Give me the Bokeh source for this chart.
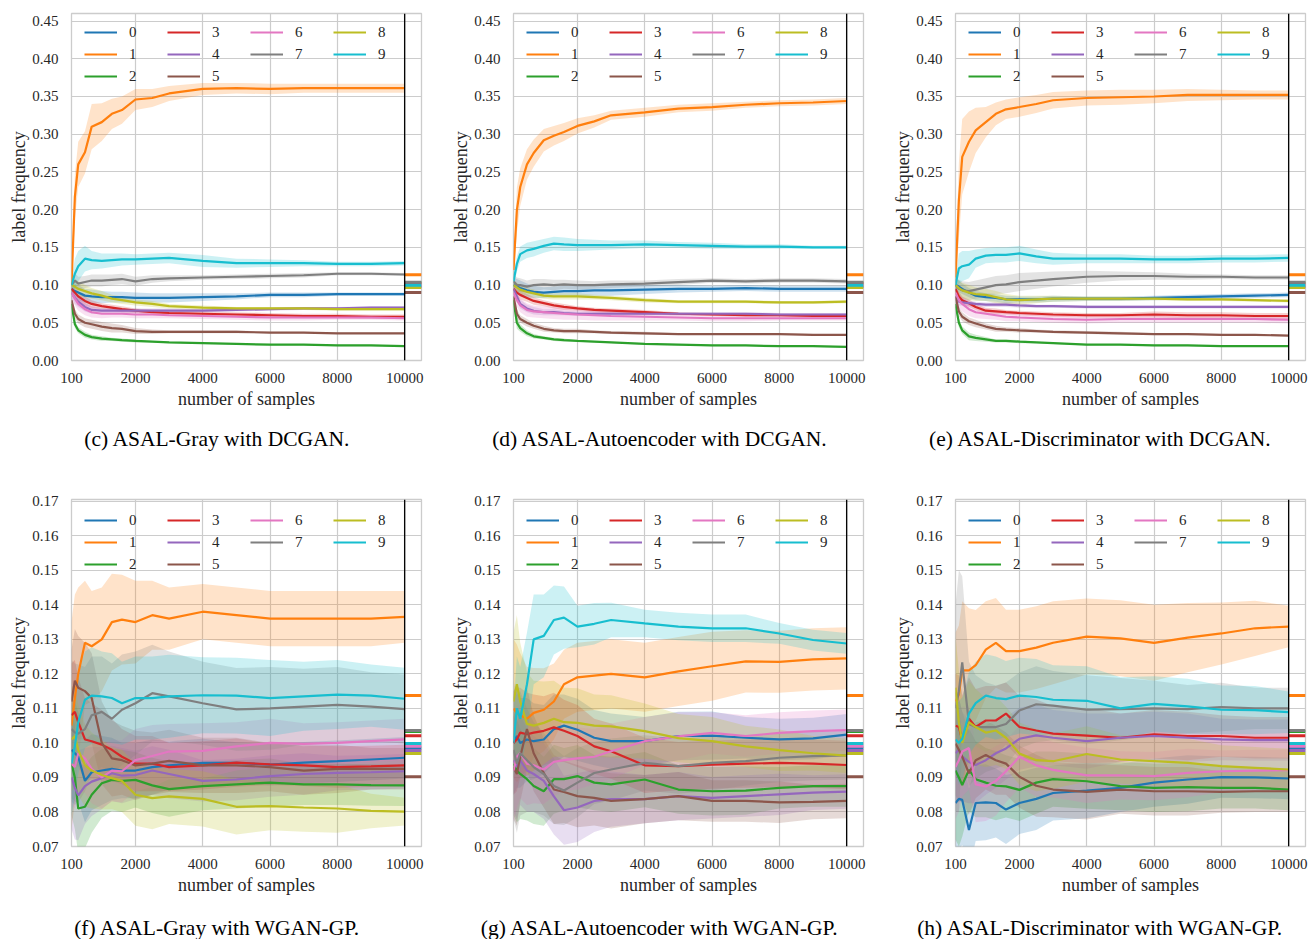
from bokeh.plotting import figure
from bokeh.layouts import row, column
from bokeh.models import (Range1d, FixedTicker, NumeralTickFormatter, Span,
                          Legend, LegendItem, Label)
from bokeh.embed import file_html
from bokeh.resources import INLINE

# ---------------- data ----------------
SAMPLES = [100, 200, 300, 500, 700, 1000, 1300, 1600, 2000, 2500, 3000,
           4000, 5000, 6000, 7000, 8000, 9000, 10000]
LABELS = ["0", "1", "2", "3", "4", "5", "6", "7", "8", "9"]
COLORS = ["#1f77b4", "#ff7f0e", "#2ca02c", "#d62728", "#9467bd",
          "#8c564b", "#e377c2", "#7f7f7f", "#bcbd22", "#17becf"]
TRUE_FREQ = [0.0985, 0.1137, 0.1033, 0.1021, 0.0978, 0.0902, 0.0990, 0.1036, 0.0969, 0.0998]
MAX_SAMPLES = 10000
X_LIMITS = (100, 10500)
X_TICKS = [100, 2000, 4000, 6000, 8000, 10000]
Y_TICKS_DCGAN = [0.00, 0.05, 0.10, 0.15, 0.20, 0.25, 0.30, 0.35, 0.40, 0.45]
Y_TICKS_WGAN = [0.07, 0.08, 0.09, 0.10, 0.11, 0.12, 0.13, 0.14, 0.15, 0.16, 0.17]
Y_LIMITS_DCGAN = (0.0, 0.46)
Y_LIMITS_WGAN = (0.07, 0.1705)
CAPTIONS = ["(c) ASAL-Gray with DCGAN.", "(d) ASAL-Autoencoder with DCGAN.",
            "(e) ASAL-Discriminator with DCGAN.", "(f) ASAL-Gray with WGAN-GP.",
            "(g) ASAL-Autoencoder with WGAN-GP.", "(h) ASAL-Discriminator with WGAN-GP."]

# (c) ASAL-Gray with DCGAN
c_0 = [0.095, 0.092, 0.090, 0.086, 0.085, 0.084, 0.084, 0.084, 0.083, 0.083, 0.083, 0.084, 0.085, 0.087, 0.087, 0.088, 0.088, 0.088]
c_1 = [0.100, 0.217, 0.260, 0.276, 0.310, 0.316, 0.327, 0.332, 0.346, 0.348, 0.354, 0.360, 0.361, 0.360, 0.361, 0.361, 0.361, 0.361]
c_2 = [0.075, 0.048, 0.040, 0.034, 0.031, 0.029, 0.028, 0.027, 0.026, 0.025, 0.024, 0.023, 0.022, 0.021, 0.021, 0.020, 0.020, 0.019]
c_3 = [0.095, 0.090, 0.085, 0.079, 0.075, 0.072, 0.070, 0.068, 0.066, 0.064, 0.063, 0.062, 0.061, 0.060, 0.059, 0.059, 0.058, 0.058]
c_4 = [0.090, 0.083, 0.078, 0.071, 0.067, 0.066, 0.066, 0.066, 0.066, 0.066, 0.066, 0.066, 0.067, 0.068, 0.069, 0.069, 0.070, 0.070]
c_5 = [0.080, 0.062, 0.055, 0.050, 0.048, 0.045, 0.043, 0.042, 0.039, 0.038, 0.038, 0.038, 0.038, 0.037, 0.037, 0.036, 0.036, 0.036]
c_6 = [0.090, 0.082, 0.075, 0.068, 0.064, 0.062, 0.062, 0.062, 0.061, 0.061, 0.060, 0.059, 0.058, 0.057, 0.057, 0.057, 0.057, 0.056]
c_7 = [0.100, 0.106, 0.102, 0.104, 0.106, 0.106, 0.107, 0.108, 0.105, 0.108, 0.109, 0.110, 0.111, 0.112, 0.113, 0.115, 0.115, 0.114]
c_8 = [0.100, 0.098, 0.095, 0.092, 0.089, 0.086, 0.082, 0.080, 0.077, 0.075, 0.072, 0.070, 0.069, 0.069, 0.069, 0.068, 0.068, 0.068]
c_9 = [0.100, 0.115, 0.125, 0.135, 0.133, 0.132, 0.133, 0.134, 0.134, 0.135, 0.136, 0.132, 0.129, 0.129, 0.129, 0.128, 0.128, 0.129]
c_0_sd = [0.010, 0.010, 0.010, 0.009, 0.009, 0.008, 0.007, 0.007, 0.007, 0.006, 0.006, 0.005, 0.004, 0.003, 0.003, 0.002, 0.002, 0.002]
c_1_sd = [0.010, 0.030, 0.030, 0.028, 0.030, 0.025, 0.020, 0.018, 0.014, 0.012, 0.010, 0.008, 0.007, 0.007, 0.006, 0.006, 0.006, 0.006]
c_2_sd = [0.005, 0.005, 0.004, 0.004, 0.003, 0.003, 0.002, 0.002, 0.002, 0.001, 0.001, 0.001, 0.001, 0.001, 0.001, 0.001, 0.001, 0.001]
c_3_sd = [0.008, 0.008, 0.007, 0.006, 0.005, 0.004, 0.004, 0.004, 0.003, 0.003, 0.003, 0.003, 0.003, 0.003, 0.003, 0.003, 0.003, 0.003]
c_4_sd = [0.008, 0.008, 0.007, 0.006, 0.005, 0.004, 0.004, 0.003, 0.003, 0.003, 0.003, 0.002, 0.002, 0.002, 0.002, 0.002, 0.002, 0.002]
c_5_sd = [0.006, 0.006, 0.006, 0.006, 0.006, 0.006, 0.006, 0.005, 0.004, 0.003, 0.002, 0.002, 0.002, 0.001, 0.001, 0.001, 0.001, 0.001]
c_6_sd = [0.008, 0.009, 0.009, 0.008, 0.007, 0.006, 0.005, 0.005, 0.005, 0.005, 0.004, 0.004, 0.004, 0.004, 0.004, 0.003, 0.003, 0.003]
c_7_sd = [0.010, 0.010, 0.009, 0.008, 0.008, 0.008, 0.007, 0.007, 0.006, 0.005, 0.004, 0.003, 0.003, 0.003, 0.003, 0.002, 0.002, 0.002]
c_8_sd = [0.010, 0.010, 0.010, 0.008, 0.007, 0.006, 0.005, 0.005, 0.004, 0.004, 0.003, 0.003, 0.002, 0.002, 0.002, 0.002, 0.002, 0.002]
c_9_sd = [0.010, 0.020, 0.020, 0.017, 0.012, 0.010, 0.009, 0.008, 0.007, 0.007, 0.007, 0.008, 0.006, 0.005, 0.004, 0.003, 0.003, 0.003]

# (d) ASAL-Autoencoder with DCGAN
d_0 = [0.100, 0.098, 0.096, 0.093, 0.091, 0.090, 0.091, 0.092, 0.092, 0.093, 0.093, 0.094, 0.095, 0.095, 0.096, 0.095, 0.095, 0.095]
d_1 = [0.120, 0.199, 0.230, 0.260, 0.275, 0.292, 0.298, 0.303, 0.311, 0.317, 0.325, 0.329, 0.334, 0.336, 0.339, 0.341, 0.342, 0.344]
d_2 = [0.080, 0.050, 0.043, 0.036, 0.032, 0.030, 0.028, 0.027, 0.026, 0.025, 0.024, 0.022, 0.021, 0.020, 0.020, 0.019, 0.019, 0.018]
d_3 = [0.095, 0.090, 0.087, 0.083, 0.079, 0.076, 0.073, 0.071, 0.069, 0.067, 0.066, 0.064, 0.062, 0.061, 0.060, 0.060, 0.059, 0.059]
d_4 = [0.095, 0.085, 0.075, 0.069, 0.066, 0.064, 0.064, 0.063, 0.062, 0.062, 0.062, 0.062, 0.062, 0.062, 0.062, 0.061, 0.061, 0.061]
d_5 = [0.085, 0.062, 0.055, 0.050, 0.046, 0.042, 0.040, 0.039, 0.039, 0.038, 0.037, 0.036, 0.035, 0.035, 0.035, 0.035, 0.034, 0.034]
d_6 = [0.090, 0.080, 0.073, 0.067, 0.065, 0.064, 0.063, 0.062, 0.061, 0.060, 0.059, 0.058, 0.057, 0.056, 0.056, 0.056, 0.056, 0.056]
d_7 = [0.105, 0.100, 0.100, 0.098, 0.100, 0.101, 0.100, 0.101, 0.100, 0.100, 0.101, 0.102, 0.104, 0.106, 0.105, 0.106, 0.106, 0.105]
d_8 = [0.100, 0.097, 0.094, 0.091, 0.089, 0.086, 0.085, 0.085, 0.085, 0.084, 0.083, 0.080, 0.078, 0.078, 0.078, 0.077, 0.077, 0.078]
d_9 = [0.105, 0.128, 0.141, 0.146, 0.148, 0.152, 0.155, 0.154, 0.153, 0.153, 0.153, 0.154, 0.153, 0.152, 0.151, 0.151, 0.150, 0.150]
d_0_sd = [0.010, 0.010, 0.010, 0.009, 0.008, 0.007, 0.007, 0.007, 0.007, 0.007, 0.007, 0.006, 0.005, 0.004, 0.004, 0.004, 0.004, 0.004]
d_1_sd = [0.010, 0.030, 0.025, 0.020, 0.018, 0.015, 0.013, 0.012, 0.010, 0.008, 0.006, 0.006, 0.005, 0.005, 0.004, 0.004, 0.004, 0.004]
d_2_sd = [0.006, 0.008, 0.005, 0.004, 0.003, 0.002, 0.002, 0.002, 0.001, 0.001, 0.001, 0.001, 0.001, 0.001, 0.001, 0.001, 0.001, 0.001]
d_3_sd = [0.006, 0.006, 0.006, 0.005, 0.005, 0.004, 0.004, 0.004, 0.003, 0.003, 0.003, 0.003, 0.002, 0.002, 0.002, 0.002, 0.002, 0.002]
d_4_sd = [0.006, 0.006, 0.006, 0.005, 0.005, 0.004, 0.004, 0.003, 0.003, 0.003, 0.003, 0.002, 0.002, 0.002, 0.002, 0.002, 0.002, 0.002]
d_5_sd = [0.006, 0.006, 0.005, 0.005, 0.004, 0.004, 0.003, 0.003, 0.003, 0.002, 0.002, 0.002, 0.001, 0.001, 0.001, 0.001, 0.001, 0.001]
d_6_sd = [0.008, 0.009, 0.009, 0.009, 0.008, 0.008, 0.008, 0.008, 0.007, 0.007, 0.006, 0.005, 0.004, 0.004, 0.004, 0.003, 0.003, 0.003]
d_7_sd = [0.010, 0.010, 0.009, 0.008, 0.008, 0.007, 0.007, 0.006, 0.006, 0.005, 0.005, 0.004, 0.004, 0.003, 0.003, 0.003, 0.003, 0.003]
d_8_sd = [0.006, 0.006, 0.006, 0.005, 0.005, 0.004, 0.004, 0.004, 0.004, 0.003, 0.003, 0.003, 0.002, 0.002, 0.002, 0.002, 0.002, 0.002]
d_9_sd = [0.010, 0.010, 0.010, 0.010, 0.010, 0.009, 0.009, 0.009, 0.008, 0.007, 0.006, 0.005, 0.004, 0.004, 0.003, 0.003, 0.002, 0.002]

# (e) ASAL-Discriminator with DCGAN
e_0 = [0.100, 0.098, 0.095, 0.090, 0.086, 0.084, 0.083, 0.081, 0.081, 0.081, 0.082, 0.082, 0.082, 0.083, 0.084, 0.085, 0.086, 0.087]
e_1 = [0.110, 0.212, 0.270, 0.290, 0.305, 0.316, 0.327, 0.333, 0.336, 0.340, 0.345, 0.348, 0.349, 0.350, 0.352, 0.352, 0.352, 0.352]
e_2 = [0.075, 0.050, 0.040, 0.032, 0.030, 0.028, 0.026, 0.026, 0.025, 0.024, 0.023, 0.021, 0.021, 0.020, 0.020, 0.019, 0.019, 0.019]
e_3 = [0.095, 0.085, 0.080, 0.076, 0.071, 0.066, 0.065, 0.064, 0.063, 0.062, 0.061, 0.060, 0.060, 0.061, 0.060, 0.060, 0.059, 0.059]
e_4 = [0.085, 0.078, 0.077, 0.076, 0.075, 0.074, 0.074, 0.074, 0.073, 0.072, 0.072, 0.071, 0.071, 0.071, 0.071, 0.071, 0.071, 0.071]
e_5 = [0.085, 0.065, 0.058, 0.052, 0.049, 0.045, 0.042, 0.041, 0.040, 0.039, 0.038, 0.037, 0.036, 0.035, 0.035, 0.034, 0.034, 0.033]
e_6 = [0.090, 0.080, 0.075, 0.068, 0.064, 0.062, 0.060, 0.058, 0.057, 0.056, 0.055, 0.054, 0.055, 0.055, 0.055, 0.055, 0.055, 0.054]
e_7 = [0.100, 0.095, 0.093, 0.092, 0.094, 0.097, 0.100, 0.101, 0.104, 0.106, 0.108, 0.111, 0.112, 0.112, 0.111, 0.111, 0.110, 0.110]
e_8 = [0.100, 0.096, 0.093, 0.090, 0.088, 0.087, 0.084, 0.081, 0.080, 0.081, 0.082, 0.082, 0.082, 0.082, 0.081, 0.081, 0.080, 0.079]
e_9 = [0.100, 0.122, 0.125, 0.127, 0.135, 0.139, 0.140, 0.140, 0.142, 0.138, 0.135, 0.135, 0.135, 0.134, 0.134, 0.135, 0.135, 0.136]
e_0_sd = [0.008, 0.008, 0.007, 0.006, 0.006, 0.005, 0.005, 0.005, 0.004, 0.004, 0.004, 0.003, 0.003, 0.003, 0.003, 0.003, 0.003, 0.003]
e_1_sd = [0.020, 0.050, 0.050, 0.040, 0.030, 0.020, 0.015, 0.013, 0.013, 0.012, 0.011, 0.010, 0.010, 0.009, 0.008, 0.007, 0.006, 0.006]
e_2_sd = [0.005, 0.006, 0.005, 0.005, 0.004, 0.003, 0.002, 0.002, 0.002, 0.001, 0.001, 0.001, 0.001, 0.001, 0.001, 0.001, 0.001, 0.001]
e_3_sd = [0.006, 0.006, 0.005, 0.005, 0.004, 0.004, 0.004, 0.003, 0.003, 0.003, 0.003, 0.003, 0.003, 0.004, 0.004, 0.004, 0.004, 0.004]
e_4_sd = [0.005, 0.005, 0.004, 0.004, 0.003, 0.003, 0.003, 0.003, 0.003, 0.002, 0.002, 0.002, 0.002, 0.002, 0.002, 0.002, 0.002, 0.002]
e_5_sd = [0.006, 0.006, 0.006, 0.005, 0.005, 0.004, 0.004, 0.003, 0.003, 0.002, 0.002, 0.002, 0.002, 0.001, 0.001, 0.001, 0.001, 0.001]
e_6_sd = [0.008, 0.010, 0.010, 0.009, 0.008, 0.007, 0.006, 0.006, 0.005, 0.005, 0.005, 0.005, 0.005, 0.005, 0.005, 0.005, 0.005, 0.005]
e_7_sd = [0.010, 0.012, 0.012, 0.012, 0.012, 0.012, 0.012, 0.012, 0.012, 0.011, 0.010, 0.008, 0.006, 0.005, 0.004, 0.003, 0.003, 0.003]
e_8_sd = [0.010, 0.010, 0.010, 0.010, 0.009, 0.008, 0.008, 0.007, 0.006, 0.005, 0.004, 0.003, 0.003, 0.002, 0.002, 0.002, 0.002, 0.002]
e_9_sd = [0.010, 0.020, 0.020, 0.018, 0.012, 0.010, 0.010, 0.010, 0.010, 0.009, 0.008, 0.006, 0.006, 0.005, 0.005, 0.005, 0.005, 0.005]

# (f) ASAL-Gray with WGAN-GP
f_0 = [0.098, 0.097, 0.096, 0.089, 0.0915, 0.092, 0.0925, 0.092, 0.092, 0.093, 0.0935, 0.0942, 0.0942, 0.0937, 0.0943, 0.0947, 0.0952, 0.0957]
f_1 = [0.105, 0.113, 0.120, 0.129, 0.128, 0.130, 0.135, 0.1357, 0.135, 0.137, 0.136, 0.138, 0.137, 0.136, 0.136, 0.136, 0.136, 0.1365]
f_2 = [0.094, 0.090, 0.081, 0.0815, 0.085, 0.0883, 0.0893, 0.089, 0.0893, 0.0877, 0.0866, 0.0875, 0.088, 0.0885, 0.088, 0.088, 0.0878, 0.0877]
f_3 = [0.108, 0.109, 0.106, 0.101, 0.1005, 0.0995, 0.098, 0.096, 0.094, 0.094, 0.093, 0.0935, 0.0943, 0.0938, 0.0935, 0.093, 0.0932, 0.0935]
f_4 = [0.090, 0.087, 0.0848, 0.0875, 0.0888, 0.0898, 0.0912, 0.0905, 0.0907, 0.092, 0.091, 0.089, 0.0894, 0.0904, 0.091, 0.0913, 0.0915, 0.0918]
f_5 = [0.112, 0.118, 0.116, 0.115, 0.113, 0.100, 0.0955, 0.095, 0.0935, 0.094, 0.0948, 0.0935, 0.0935, 0.093, 0.092, 0.0925, 0.0925, 0.0925]
f_6 = [0.094, 0.093, 0.097, 0.0955, 0.0925, 0.090, 0.092, 0.0918, 0.095, 0.0962, 0.0975, 0.0977, 0.099, 0.100, 0.0997, 0.100, 0.1005, 0.101]
f_7 = [0.104, 0.103, 0.1027, 0.104, 0.108, 0.109, 0.107, 0.1096, 0.1115, 0.1144, 0.1135, 0.1115, 0.1097, 0.110, 0.1105, 0.111, 0.1105, 0.1098]
f_8 = [0.101, 0.102, 0.098, 0.0935, 0.092, 0.0907, 0.0898, 0.089, 0.085, 0.084, 0.0845, 0.0838, 0.0815, 0.0817, 0.0813, 0.081, 0.0803, 0.0801]
f_9 = [0.094, 0.099, 0.106, 0.1125, 0.1137, 0.1135, 0.113, 0.1115, 0.113, 0.113, 0.1135, 0.1138, 0.1137, 0.113, 0.1135, 0.114, 0.1137, 0.1128]
f_0_sd = [0.015, 0.015, 0.013, 0.012, 0.011, 0.010, 0.009, 0.008, 0.008, 0.008, 0.007, 0.007, 0.006, 0.006, 0.006, 0.006, 0.006, 0.006]
f_1_sd = [0.030, 0.030, 0.025, 0.018, 0.016, 0.015, 0.014, 0.013, 0.012, 0.010, 0.009, 0.008, 0.008, 0.008, 0.008, 0.008, 0.008, 0.0075]
f_2_sd = [0.015, 0.015, 0.013, 0.012, 0.011, 0.010, 0.009, 0.009, 0.008, 0.008, 0.008, 0.007, 0.007, 0.007, 0.006, 0.006, 0.006, 0.006]
f_3_sd = [0.015, 0.015, 0.013, 0.012, 0.011, 0.010, 0.009, 0.008, 0.008, 0.008, 0.007, 0.007, 0.007, 0.006, 0.006, 0.006, 0.006, 0.006]
f_4_sd = [0.015, 0.015, 0.013, 0.011, 0.010, 0.009, 0.008, 0.008, 0.007, 0.007, 0.007, 0.006, 0.006, 0.006, 0.006, 0.005, 0.005, 0.005]
f_5_sd = [0.015, 0.015, 0.015, 0.014, 0.013, 0.012, 0.011, 0.010, 0.010, 0.009, 0.009, 0.008, 0.008, 0.007, 0.007, 0.007, 0.006, 0.006]
f_6_sd = [0.012, 0.012, 0.011, 0.010, 0.010, 0.009, 0.009, 0.009, 0.009, 0.009, 0.008, 0.008, 0.007, 0.007, 0.006, 0.006, 0.006, 0.006]
f_7_sd = [0.020, 0.020, 0.020, 0.018, 0.017, 0.016, 0.016, 0.016, 0.015, 0.014, 0.013, 0.012, 0.012, 0.012, 0.011, 0.011, 0.010, 0.010]
f_8_sd = [0.015, 0.015, 0.013, 0.012, 0.011, 0.010, 0.009, 0.009, 0.009, 0.009, 0.008, 0.008, 0.008, 0.007, 0.007, 0.007, 0.005, 0.004]
f_9_sd = [0.015, 0.015, 0.015, 0.014, 0.014, 0.013, 0.013, 0.012, 0.012, 0.012, 0.012, 0.011, 0.011, 0.011, 0.010, 0.010, 0.009, 0.009]

# (g) ASAL-Autoencoder with WGAN-GP
g_0 = [0.100, 0.102, 0.100, 0.101, 0.1005, 0.101, 0.104, 0.105, 0.1038, 0.1015, 0.1005, 0.1005, 0.102, 0.1021, 0.1015, 0.101, 0.1013, 0.1024]
g_1 = [0.110, 0.1085, 0.108, 0.107, 0.1087, 0.1096, 0.112, 0.117, 0.119, 0.1195, 0.120, 0.119, 0.1207, 0.1222, 0.1236, 0.1235, 0.1242, 0.1245]
g_2 = [0.094, 0.092, 0.091, 0.0895, 0.0875, 0.086, 0.0895, 0.0895, 0.0904, 0.0885, 0.088, 0.0894, 0.0865, 0.086, 0.0862, 0.087, 0.0875, 0.0875]
g_3 = [0.100, 0.101, 0.103, 0.1025, 0.103, 0.1035, 0.1045, 0.1035, 0.102, 0.099, 0.0976, 0.0935, 0.0933, 0.0937, 0.094, 0.0942, 0.094, 0.0936]
g_4 = [0.095, 0.093, 0.095, 0.092, 0.091, 0.089, 0.0845, 0.0805, 0.0813, 0.0832, 0.0837, 0.0837, 0.0846, 0.0841, 0.0846, 0.0851, 0.0856, 0.0859]
g_5 = [0.093, 0.091, 0.096, 0.104, 0.097, 0.0913, 0.0865, 0.0858, 0.0846, 0.0841, 0.0832, 0.0837, 0.0846, 0.0832, 0.0832, 0.0828, 0.0829, 0.0832]
g_6 = [0.092, 0.096, 0.097, 0.094, 0.0935, 0.0923, 0.0945, 0.095, 0.0955, 0.096, 0.0976, 0.1005, 0.1019, 0.1029, 0.102, 0.1029, 0.1034, 0.1037]
g_7 = [0.098, 0.094, 0.097, 0.095, 0.093, 0.091, 0.0875, 0.0862, 0.0885, 0.0913, 0.0923, 0.0942, 0.0933, 0.0942, 0.0947, 0.0957, 0.0962, 0.0964]
g_8 = [0.112, 0.117, 0.112, 0.1055, 0.105, 0.1058, 0.107, 0.106, 0.1058, 0.105, 0.1048, 0.1034, 0.1014, 0.1005, 0.099, 0.0979, 0.097, 0.0963]
g_9 = [0.100, 0.110, 0.107, 0.117, 0.130, 0.131, 0.1356, 0.1363, 0.1337, 0.1345, 0.1356, 0.1346, 0.1337, 0.1332, 0.1332, 0.1317, 0.1298, 0.1288]
g_0_sd = [0.015, 0.015, 0.013, 0.012, 0.011, 0.010, 0.010, 0.009, 0.009, 0.008, 0.008, 0.007, 0.007, 0.007, 0.006, 0.006, 0.006, 0.006]
g_1_sd = [0.020, 0.020, 0.018, 0.015, 0.013, 0.012, 0.011, 0.010, 0.010, 0.010, 0.010, 0.010, 0.010, 0.010, 0.009, 0.009, 0.009, 0.009]
g_2_sd = [0.015, 0.015, 0.013, 0.012, 0.011, 0.010, 0.010, 0.009, 0.009, 0.008, 0.008, 0.008, 0.007, 0.007, 0.007, 0.006, 0.006, 0.006]
g_3_sd = [0.015, 0.015, 0.013, 0.012, 0.011, 0.010, 0.010, 0.009, 0.009, 0.008, 0.008, 0.008, 0.007, 0.007, 0.007, 0.007, 0.007, 0.007]
g_4_sd = [0.015, 0.015, 0.013, 0.012, 0.011, 0.011, 0.011, 0.010, 0.010, 0.009, 0.008, 0.007, 0.007, 0.006, 0.006, 0.006, 0.005, 0.005]
g_5_sd = [0.015, 0.015, 0.013, 0.012, 0.011, 0.010, 0.010, 0.009, 0.009, 0.008, 0.008, 0.007, 0.007, 0.006, 0.006, 0.006, 0.005, 0.005]
g_6_sd = [0.015, 0.015, 0.013, 0.012, 0.011, 0.010, 0.010, 0.009, 0.009, 0.008, 0.008, 0.007, 0.007, 0.006, 0.006, 0.006, 0.006, 0.006]
g_7_sd = [0.020, 0.020, 0.018, 0.015, 0.013, 0.012, 0.011, 0.010, 0.010, 0.009, 0.009, 0.008, 0.008, 0.008, 0.007, 0.007, 0.007, 0.007]
g_8_sd = [0.020, 0.020, 0.017, 0.015, 0.013, 0.012, 0.011, 0.010, 0.010, 0.009, 0.009, 0.008, 0.007, 0.007, 0.006, 0.006, 0.005, 0.005]
g_9_sd = [0.010, 0.015, 0.015, 0.015, 0.013, 0.012, 0.010, 0.009, 0.006, 0.006, 0.005, 0.004, 0.004, 0.004, 0.004, 0.003, 0.003, 0.003]

# (h) ASAL-Discriminator with WGAN-GP
h_0 = [0.0826, 0.0838, 0.0835, 0.0748, 0.0826, 0.0828, 0.0826, 0.0807, 0.0826, 0.0838, 0.0855, 0.0862, 0.087, 0.0885, 0.0894, 0.0901, 0.090, 0.0897]
h_1 = [0.112, 0.114, 0.121, 0.121, 0.1225, 0.127, 0.129, 0.1266, 0.1266, 0.1276, 0.129, 0.1308, 0.1303, 0.129, 0.1305, 0.1317, 0.1332, 0.1337]
h_2 = [0.092, 0.090, 0.0878, 0.0922, 0.0895, 0.0885, 0.0876, 0.0874, 0.0864, 0.0885, 0.0895, 0.0889, 0.0875, 0.087, 0.0872, 0.087, 0.087, 0.0865]
h_3 = [0.105, 0.1046, 0.1008, 0.107, 0.1046, 0.1065, 0.1065, 0.1085, 0.1046, 0.1036, 0.1027, 0.1021, 0.1015, 0.1025, 0.102, 0.102, 0.1015, 0.1015]
h_4 = [0.097, 0.098, 0.096, 0.0945, 0.0936, 0.095, 0.097, 0.0984, 0.1012, 0.1022, 0.1015, 0.1005, 0.1015, 0.102, 0.1015, 0.101, 0.1008, 0.1008]
h_5 = [0.0998, 0.098, 0.096, 0.0912, 0.095, 0.0965, 0.095, 0.094, 0.0902, 0.0876, 0.0865, 0.0858, 0.0865, 0.086, 0.086, 0.0858, 0.086, 0.086]
h_6 = [0.093, 0.095, 0.0975, 0.0985, 0.088, 0.0874, 0.089, 0.0918, 0.096, 0.0935, 0.0922, 0.0906, 0.0906, 0.0904, 0.0913, 0.0918, 0.092, 0.0921]
h_7 = [0.110, 0.115, 0.1233, 0.1055, 0.1046, 0.1046, 0.1046, 0.1055, 0.1094, 0.1112, 0.1108, 0.1096, 0.1098, 0.110, 0.1098, 0.1104, 0.110, 0.110]
h_8 = [0.116, 0.106, 0.100, 0.106, 0.1046, 0.103, 0.1036, 0.1015, 0.0969, 0.095, 0.0947, 0.0968, 0.0952, 0.0947, 0.0942, 0.0933, 0.0928, 0.0923]
h_9 = [0.101, 0.100, 0.1012, 0.1085, 0.1115, 0.1137, 0.113, 0.1127, 0.1137, 0.1133, 0.1125, 0.1122, 0.110, 0.1113, 0.1106, 0.1096, 0.1095, 0.1089]
h_0_sd = [0.015, 0.015, 0.013, 0.012, 0.011, 0.011, 0.010, 0.010, 0.009, 0.009, 0.008, 0.008, 0.007, 0.007, 0.007, 0.006, 0.006, 0.006]
h_1_sd = [0.020, 0.020, 0.020, 0.018, 0.016, 0.014, 0.013, 0.012, 0.012, 0.012, 0.012, 0.011, 0.011, 0.011, 0.010, 0.009, 0.008, 0.006]
h_2_sd = [0.020, 0.020, 0.015, 0.012, 0.011, 0.010, 0.010, 0.009, 0.009, 0.009, 0.008, 0.008, 0.007, 0.007, 0.007, 0.006, 0.006, 0.006]
h_3_sd = [0.015, 0.015, 0.013, 0.012, 0.011, 0.010, 0.010, 0.009, 0.009, 0.009, 0.008, 0.008, 0.007, 0.007, 0.007, 0.006, 0.006, 0.006]
h_4_sd = [0.015, 0.015, 0.013, 0.012, 0.011, 0.010, 0.010, 0.009, 0.009, 0.009, 0.008, 0.008, 0.007, 0.007, 0.007, 0.006, 0.006, 0.006]
h_5_sd = [0.015, 0.015, 0.013, 0.012, 0.011, 0.010, 0.010, 0.009, 0.009, 0.009, 0.008, 0.008, 0.007, 0.007, 0.007, 0.006, 0.006, 0.006]
h_6_sd = [0.015, 0.015, 0.013, 0.012, 0.011, 0.010, 0.010, 0.009, 0.009, 0.009, 0.008, 0.008, 0.007, 0.007, 0.007, 0.006, 0.006, 0.006]
h_7_sd = [0.030, 0.035, 0.025, 0.018, 0.015, 0.013, 0.012, 0.012, 0.011, 0.011, 0.010, 0.010, 0.009, 0.008, 0.007, 0.007, 0.006, 0.006]
h_8_sd = [0.015, 0.015, 0.013, 0.012, 0.011, 0.010, 0.010, 0.009, 0.009, 0.009, 0.008, 0.008, 0.007, 0.007, 0.007, 0.006, 0.006, 0.006]
h_9_sd = [0.010, 0.012, 0.012, 0.012, 0.012, 0.012, 0.012, 0.011, 0.011, 0.011, 0.010, 0.010, 0.009, 0.008, 0.008, 0.007, 0.007, 0.006]

# ---------------- styling ----------------
SERIF = "Liberation Serif"
TEXT = "#262626"
GRID = "#cccccc"
FRAME_H = 347
AXIS_BORDER = 60


def make_panel(means, sds, y_limits, y_ticks, legend_y, width, border_right, border_top):
    height = border_top + FRAME_H + AXIS_BORDER
    p = figure(width=width, height=height,
               x_range=Range1d(*X_LIMITS), y_range=Range1d(*y_limits),
               output_backend="svg", toolbar_location=None,
               min_border_left=71, min_border_right=border_right,
               min_border_top=border_top, min_border_bottom=AXIS_BORDER)
    p.background_fill_color = "white"
    p.border_fill_color = "white"
    p.outline_line_color = GRID
    p.outline_line_width = 1.3

    p.xaxis.ticker = FixedTicker(ticks=X_TICKS)
    p.xaxis.formatter = NumeralTickFormatter(format="0")
    p.yaxis.ticker = FixedTicker(ticks=y_ticks)
    p.yaxis.formatter = NumeralTickFormatter(format="0.00")
    p.xaxis.axis_label = "number of samples"
    p.yaxis.axis_label = "label frequency"
    for ax in (p.xaxis, p.yaxis):
        ax.axis_line_color = None
        ax.major_tick_line_color = None
        ax.minor_tick_line_color = None
        ax.major_label_text_font = SERIF
        ax.major_label_text_font_size = "15px"
        ax.major_label_text_color = TEXT
        ax.axis_label_text_font = SERIF
        ax.axis_label_text_font_size = "18px"
        ax.axis_label_text_font_style = "normal"
        ax.axis_label_text_color = TEXT
    p.xaxis.major_label_standoff = 6
    p.xaxis.axis_label_standoff = 3
    p.yaxis.major_label_standoff = 7
    p.yaxis.axis_label_standoff = 0
    p.grid.grid_line_color = GRID
    p.grid.grid_line_width = 1.2

    # shaded bands (below all lines, as in the original)
    for i in range(10):
        lo = [m - s for m, s in zip(means[i], sds[i])]
        hi = [m + s for m, s in zip(means[i], sds[i])]
        p.varea(x=SAMPLES, y1=lo, y2=hi, fill_color=COLORS[i], fill_alpha=0.22)

    renderers = []
    for i in range(10):
        r = p.line(x=SAMPLES, y=means[i], line_color=COLORS[i], line_width=2.2)
        renderers.append(r)

    # final sample marker
    p.add_layout(Span(location=MAX_SAMPLES, dimension="height",
                      line_color="black", line_width=1.3))
    # reference label distribution, drawn right of the final sample
    p.segment(x0=[MAX_SAMPLES] * 10, x1=[X_LIMITS[1]] * 10,
              y0=TRUE_FREQ, y1=TRUE_FREQ, line_color=COLORS, line_width=3)

    blank = p.line(x=[], y=[], line_alpha=0)
    items = [LegendItem(label=LABELS[i], renderers=[renderers[i]]) for i in range(8)]
    items.append(LegendItem(label=" ", renderers=[blank]))
    items += [LegendItem(label=LABELS[i], renderers=[renderers[i]]) for i in (8, 9)]
    leg = Legend(items=items, nrows=3, orientation="vertical", location=(4, legend_y),
                 glyph_width=33, glyph_height=20, label_height=14, label_width=36,
                 label_standoff=12, spacing=2, padding=9, margin=0,
                 border_line_alpha=0, background_fill_alpha=0,
                 label_text_font=SERIF, label_text_font_size="15px",
                 label_text_color=TEXT)
    p.add_layout(leg, "center")
    return p


def make_caption(text, width, height, center_x, center_y_from_bottom):
    c = figure(width=width, height=height, x_range=Range1d(0, 1), y_range=Range1d(0, 1),
               output_backend="svg", toolbar_location=None,
               min_border_left=0, min_border_right=0, min_border_top=0, min_border_bottom=0)
    c.axis.visible = False
    c.grid.visible = False
    c.outline_line_color = None
    c.background_fill_color = "white"
    c.border_fill_color = "white"
    c.add_layout(Label(x=center_x, y=center_y_from_bottom, x_units="screen", y_units="screen",
                       text=text, text_align="center", text_baseline="middle",
                       text_font=SERIF, text_font_size="21.5px", text_color="black"))
    return c


def gather(prefix):
    g = globals()
    means = [g[f"{prefix}_{i}"] for i in range(10)]
    sds = [g[f"{prefix}_{i}_sd"] for i in range(10)]
    return means, sds


WIDTHS = [(442, 21), (442, 21), (427, 6)]
CAP_X = [217, 217.5, 216]

top_main, top_cap, bot_main, bot_cap = [], [], [], []
for k, prefix in enumerate(["c", "d", "e"]):
    m, s = gather(prefix)
    w, br = WIDTHS[k]
    top_main.append(make_panel(m, s, Y_LIMITS_DCGAN, Y_TICKS_DCGAN, 265, w, br, 13))
    top_cap.append(make_caption(CAPTIONS[k], w, 45, CAP_X[k], 26.5))
for k, prefix in enumerate(["f", "g", "h"]):
    m, s = gather(prefix)
    w, br = WIDTHS[k]
    bot_main.append(make_panel(m, s, Y_LIMITS_WGAN, Y_TICKS_WGAN, 263, w, br, 34))
    bot_cap.append(make_caption(CAPTIONS[3 + k], w, 33, CAP_X[k], 12))

layout = column(row(*top_main), row(*top_cap), row(*bot_main), row(*bot_cap))
open("out.html", "w").write(file_html(layout, INLINE))
